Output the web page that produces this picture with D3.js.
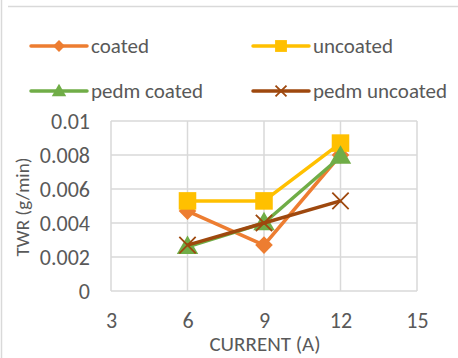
<!DOCTYPE html>
<html>
<head>
<meta charset="utf-8">
<script src="https://cdn.jsdelivr.net/npm/d3@7"></script>
<style>
  body { margin: 0; background: #fff; }
  text { font-family: Carlito, "Open Sans", "Liberation Sans", sans-serif; fill: #595959; }
</style>
</head>
<body>
<div id="chart"></div>
<script>
// data
var current = [6, 9, 12];
var coated = [0.0047, 0.0027, 0.0080];
var uncoated = [0.0053, 0.0053, 0.0087];
var pedmCoated = [0.0026, 0.0040, 0.0079];
var pedmUncoated = [0.0027, 0.0040, 0.0053];
var xTicks = [3, 6, 9, 12, 15];
var yTicks = [0, 0.002, 0.004, 0.006, 0.008, 0.01];

var series = [
  { name: "coated", values: coated, color: "#ED7D31", marker: "diamond" },
  { name: "uncoated", values: uncoated, color: "#FFC000", marker: "square" },
  { name: "pedm coated", values: pedmCoated, color: "#70AD47", marker: "triangle" },
  { name: "pedm uncoated", values: pedmUncoated, color: "#9E480E", marker: "cross" }
];

var width = 458, height = 358;
var margin = { top: 121, right: 40, bottom: 67, left: 111 };

var svg = d3.select("#chart")
  .append("svg")
  .attr("width", width)
  .attr("height", height);

// chart frame (cropped edges)
svg.append("line").attr("x1", 1.5).attr("x2", 1.5).attr("y1", 0).attr("y2", height)
  .style("stroke", "#d9d9d9").style("stroke-width", 1.5);
svg.append("line").attr("x1", 8).attr("x2", width).attr("y1", 6.5).attr("y2", 6.5)
  .style("stroke", "#d9d9d9").style("stroke-width", 1.5);

var x = d3.scaleLinear().domain([3, 15]).range([margin.left, 417]);
var y = d3.scaleLinear().domain([0, 0.01]).range([291, margin.top]);

// gridlines
svg.append("g")
  .selectAll("line")
  .data(yTicks)
  .enter()
  .append("line")
  .attr("x1", x(3)).attr("x2", x(15))
  .attr("y1", function (d) { return y(d); })
  .attr("y2", function (d) { return y(d); })
  .style("stroke", "#d9d9d9").style("stroke-width", 1.5);

svg.append("g")
  .selectAll("line")
  .data(xTicks)
  .enter()
  .append("line")
  .attr("x1", function (d) { return x(d); })
  .attr("x2", function (d) { return x(d); })
  .attr("y1", y(0)).attr("y2", y(0.01))
  .style("stroke", "#d9d9d9").style("stroke-width", 1.5);

var fontStack = "Carlito, 'Open Sans', 'Liberation Sans', sans-serif";

// y axis labels
var yAxis = svg.append("g")
  .attr("transform", "translate(" + (x(3) - 21) + ",0)")
  .call(d3.axisLeft(y).tickValues(yTicks).tickSize(0).tickPadding(0)
    .tickFormat(function (d) { return d === 0 ? "0" : String(+d.toFixed(3)); }));
yAxis.select(".domain").remove();
yAxis.selectAll("text").style("font-size", "22px").style("fill", "#595959")
  .style("font-family", fontStack);

// x axis labels
var xAxis = svg.append("g")
  .attr("transform", "translate(0," + (y(0) + 29) + ")")
  .call(d3.axisBottom(x).tickValues(xTicks).tickSize(0).tickPadding(0));
xAxis.select(".domain").remove();
xAxis.selectAll("text").style("font-size", "22px").style("fill", "#595959")
  .style("font-family", fontStack).attr("dy", "0.35em");

// axis titles
svg.append("text")
  .attr("x", (x(3) + x(15)) / 2 + 1)
  .attr("y", 344)
  .attr("dy", "0.35em")
  .style("text-anchor", "middle")
  .style("font-size", "21px")
  .text("CURRENT (A)");

svg.append("text")
  .attr("transform", "translate(22,207) rotate(-90)")
  .attr("dy", "0.35em")
  .style("text-anchor", "middle")
  .style("font-size", "19px")
  .text("TWR (g/min)");

// marker drawing
function drawMarker(g, type, color, cx, cy, s) {
  if (type === "diamond") {
    g.append("path")
      .attr("d", d3.symbol().type(d3.symbolDiamond2).size(s * 9))
      .attr("transform", "translate(" + cx + "," + cy + ")")
      .style("fill", color);
  } else if (type === "square") {
    g.append("path")
      .attr("d", d3.symbol().type(d3.symbolSquare).size(s * 14))
      .attr("transform", "translate(" + cx + "," + cy + ")")
      .style("fill", color);
  } else if (type === "triangle") {
    g.append("path")
      .attr("d", d3.symbol().type(d3.symbolTriangle).size(s * 9))
      .attr("transform", "translate(" + cx + "," + (cy + 1) + ")")
      .style("fill", color);
  } else {
    g.append("path")
      .attr("d", d3.symbol().type(d3.symbolTimes).size(s * 8))
      .attr("transform", "translate(" + cx + "," + cy + ")")
      .style("fill", "none")
      .style("stroke", color)
      .style("stroke-width", 1.8);
  }
}

var line = d3.line()
  .x(function (d, i) { return x(current[i]); })
  .y(function (d) { return y(d); });

series.forEach(function (s) {
  var g = svg.append("g");
  g.append("path")
    .attr("d", line(s.values))
    .style("fill", "none")
    .style("stroke", s.color)
    .style("stroke-width", 3.5)
    .style("stroke-linejoin", "round");
  s.values.forEach(function (v, i) {
    drawMarker(g, s.marker, s.color, x(current[i]), y(v), 22);
  });
});

// legend
var legendPos = [[31, 46], [253, 46], [31, 91], [253, 91]];
series.forEach(function (s, i) {
  var lg = svg.append("g").attr("transform", "translate(" + legendPos[i][0] + "," + legendPos[i][1] + ")");
  lg.append("line").attr("x1", 0).attr("x2", 56).attr("y1", 0).attr("y2", 0)
    .style("stroke", s.color).style("stroke-width", 3.5).style("stroke-linecap", "round");
  drawMarker(lg, s.marker, s.color, 28, 0, 10);
  lg.append("text")
    .attr("x", 60)
    .attr("y", 0)
    .attr("dy", "0.35em")
    .style("font-size", "21px")
    .text(s.name);
});
</script>
</body>
</html>
